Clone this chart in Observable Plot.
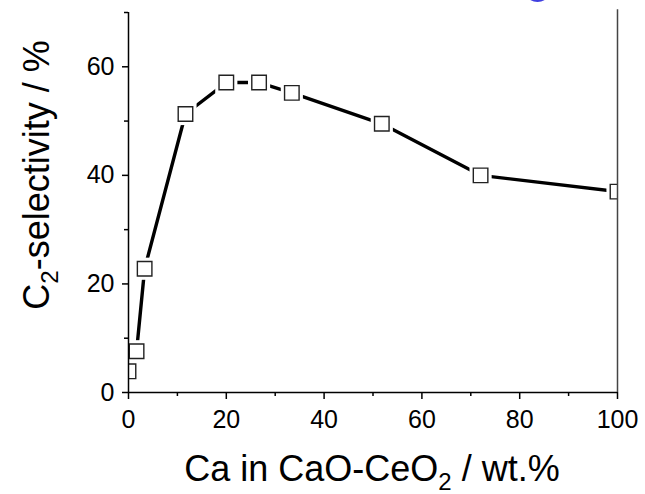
<!DOCTYPE html>
<html>
<head>
<meta charset="utf-8">
<script src="https://cdn.jsdelivr.net/npm/d3@7"></script>
<script src="https://cdn.jsdelivr.net/npm/@observablehq/plot@0.6"></script>
<style>
  html, body { margin: 0; padding: 0; background: #fff; }
  #wrap { position: relative; width: 645px; height: 494px; overflow: hidden; }
  #blob { position: absolute; left: 528px; top: -10px; width: 19px; height: 12px; border-radius: 50%; background: #3f3fe0; }
</style>
</head>
<body>
<div id="wrap"><div id="blob"></div></div>
<script>
// Data
const caContent = [0, 1.65, 3.3, 11.65, 20.0, 26.7, 33.4, 51.8, 72.0, 100];
const c2Selectivity = [3.9, 7.6, 22.8, 51.3, 57.1, 57.1, 55.2, 49.5, 40.0, 37.0];
const xMajorTicks = [0, 20, 40, 60, 80, 100];
const xMinorTicks = [10, 30, 50, 70, 90];
const yMajorTicks = [0, 20, 40, 60];
const yMinorTicks = [10, 30, 50, 70];
const xLabel = ["Ca in CaO-CeO", "2", " / wt.%"];
const yLabel = ["C", "2", "-selectivity / %"];

const data = caContent.map((x, i) => ({x, y: c2Selectivity[i]}));

const chart = Plot.plot({
  width: 645,
  height: 494,
  marginLeft: 128,
  marginRight: 28,
  marginTop: 12,
  marginBottom: 102,
  style: {fontFamily: "'Liberation Sans', Arial, sans-serif", fontSize: "25px", background: "#fff", color: "#000"},
  x: {domain: [0, 100]},
  y: {domain: [0, 70]},
  marks: [
    Plot.line(data, {x: "x", y: "y", stroke: "#000", strokeWidth: 3.4, clip: true}),
    Plot.dot(data, {x: "x", y: "y", symbol: "square", r: 12.5, fill: "#fff", stroke: "none", clip: true}),
    Plot.dot(data, {x: "x", y: "y", symbol: "square", r: 8.2, fill: "#fff", stroke: "#222", strokeWidth: 1.4, clip: true}),
    Plot.ruleX([0], {y1: 0, y2: 70, stroke: "#000", strokeWidth: 1.5}),
    Plot.ruleY([0], {x1: 0, x2: 100, stroke: "#000", strokeWidth: 1.5}),
    Plot.ruleX([100], {y1: 0, y2: 70.5, stroke: "#444", strokeWidth: 1.5}),
    Plot.axisY(yMajorTicks, {tickSize: 6, tickPadding: 8, strokeWidth: 1.5, label: null, fontSize: 25, fill: "#000"}),
    Plot.axisY(yMinorTicks, {tickSize: 4, text: null, strokeWidth: 1.5, label: null}),
    Plot.axisX(xMajorTicks, {tickSize: 7, tickPadding: 11, strokeWidth: 1.5, label: null, fontSize: 25, fill: "#000"}),
    Plot.axisX(xMinorTicks, {tickSize: 4, text: null, strokeWidth: 1.5, label: null})
  ]
});

document.getElementById("wrap").prepend(chart);

const svg = d3.select(chart);
function addLabel(parts, transform) {
  const t = svg.append("text")
    .attr("transform", transform)
    .attr("text-anchor", "middle")
    .attr("font-family", "'Liberation Sans', Arial, sans-serif")
    .attr("font-size", 36)
    .attr("fill", "#000");
  t.append("tspan").text(parts[0]);
  t.append("tspan").attr("font-size", 24).attr("dy", 9).text(parts[1]);
  t.append("tspan").attr("dy", -9).text(parts[2]);
}
addLabel(xLabel, "translate(372,481)");
addLabel(yLabel, "translate(49,175) rotate(-90)");
</script>
</body>
</html>
